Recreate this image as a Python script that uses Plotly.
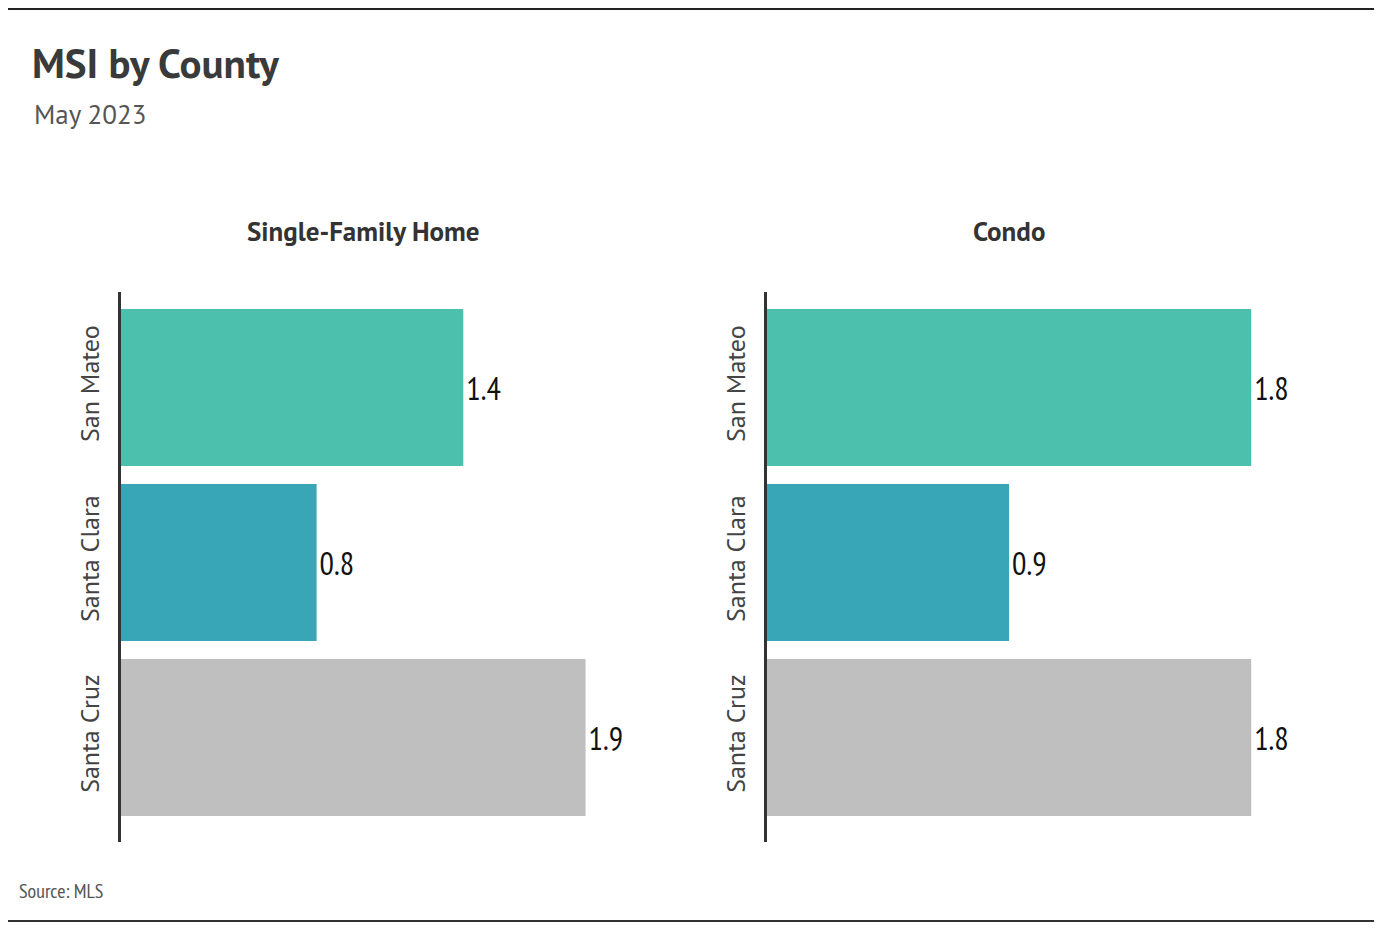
import plotly.graph_objects as go

counties = ["San Mateo", "Santa Clara", "Santa Cruz"]
sfh_values = [1.4, 0.8, 1.9]
condo_values = [1.8, 0.9, 1.8]
bar_colors = ["#4DBFAD", "#38A6B6", "#BFBFBF"]
panel_titles = ["Single-Family Home", "Condo"]

# page body has an 8px margin; work in reference-pixel coordinates
OFF = 8
W, H = 1382 - OFF, 936 - OFF
FONT = "PT Sans, Roboto, sans-serif"
NARROW = "PT Sans Narrow, Roboto Condensed, Roboto, sans-serif"

def px(x):
    return (x - OFF) / W

def py(y):
    return 1 - (y - OFF) / H

fig = go.Figure()
fig.add_trace(go.Bar(
    y=counties, x=sfh_values, orientation="h",
    marker=dict(color=bar_colors, line=dict(width=0)),
    text=[f"{v:.1f}" for v in sfh_values], textposition="outside",
    textfont=dict(family=NARROW, size=32, color="#111"),
    cliponaxis=False, xaxis="x", yaxis="y", showlegend=False,
))
fig.add_trace(go.Bar(
    y=counties, x=condo_values, orientation="h",
    marker=dict(color=bar_colors, line=dict(width=0)),
    text=[f"{v:.1f}" for v in condo_values], textposition="outside",
    textfont=dict(family=NARROW, size=32, color="#111"),
    cliponaxis=False, xaxis="x2", yaxis="y2", showlegend=False,
))

yr = [2.597, -0.546]
common_y = dict(range=yr, showgrid=False, zeroline=False, showline=True,
                linecolor="#333", linewidth=3, ticks="", tickangle=-90,
                tickfont=dict(family=FONT, size=26, color="#444"),
                ticklabelstandoff=9)
common_x = dict(showgrid=False, zeroline=False, showline=False,
                showticklabels=False, ticks="")

fig.update_layout(
    width=W, height=H,
    margin=dict(l=0, r=0, t=0, b=0),
    paper_bgcolor="white", plot_bgcolor="white",
    bargap=0.103,
    xaxis=dict(domain=[px(121), px(680)], range=[0, (680 - 121) / 244.5], **common_x),
    yaxis=dict(domain=[py(842), py(292)], anchor="x", **common_y),
    xaxis2=dict(domain=[px(767), px(1330)], range=[0, (1330 - 767) / 269.0], anchor="y2", **common_x),
    yaxis2=dict(domain=[py(842), py(292)], anchor="x2", **common_y),
    font=dict(family=FONT),
)

annotations = [
    dict(text="<b>MSI by County</b>", x=px(30), y=py(62), xanchor="left", yanchor="middle",
         font=dict(family=FONT, size=41, color="#3a3a3a")),
    dict(text="May 2023", x=px(32), y=py(114), xanchor="left", yanchor="middle",
         font=dict(family=FONT, size=27, color="#555")),
    dict(text="<b>" + panel_titles[0] + "</b>", x=px(363), y=py(231), xanchor="center", yanchor="middle",
         font=dict(family=FONT, size=27, color="#333")),
    dict(text="<b>" + panel_titles[1] + "</b>", x=px(1009), y=py(231), xanchor="center", yanchor="middle",
         font=dict(family=FONT, size=27, color="#333")),
    dict(text="Source: MLS", x=px(17), y=py(891), xanchor="left", yanchor="middle",
         font=dict(family=NARROW, size=20, color="#555")),
]
for a in annotations:
    a.update(xref="paper", yref="paper", showarrow=False)
fig.update_layout(annotations=annotations)

fig.update_layout(shapes=[
    dict(type="line", xref="paper", yref="paper", x0=0, x1=px(1375), y0=py(9), y1=py(9),
         line=dict(color="#222", width=2)),
    dict(type="line", xref="paper", yref="paper", x0=0, x1=px(1375), y0=py(921), y1=py(921),
         line=dict(color="#333", width=2)),
])

fig.write_html("out.html")
